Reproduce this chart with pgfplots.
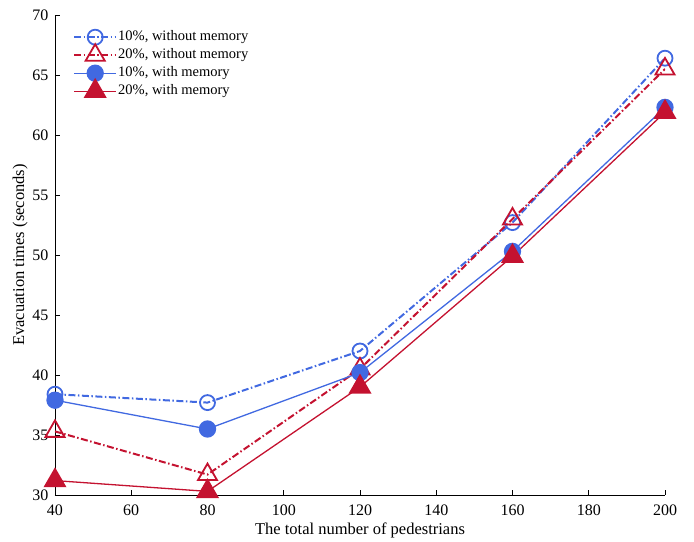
\documentclass[border=0pt]{standalone}
\usepackage{pgfplots}
\pgfplotsset{compat=1.18}
\usepackage{fontspec}
\setmainfont{Liberation Serif}
\definecolor{myblue}{RGB}{65,105,225}
\definecolor{myred}{RGB}{196,18,48}
\begin{document}
\begin{tikzpicture}
\begin{axis}[
  scale only axis,
  width=610pt, height=480pt,
  xmin=40, xmax=200, ymin=30, ymax=70,
  xtick={40,60,...,200}, ytick={30,35,...,70},
  axis x line=bottom, axis y line=left,
  axis line style={-, line width=0.8pt},
  tick align=inside,
  major tick length=5pt,
  tick style={black, line width=0.8pt},
  /pgf/number format/assume math mode=true,
  tick label style={font=\fontsize{16}{18}\selectfont},
  xticklabel style={yshift=-6pt},
  yticklabel style={xshift=-3pt},
  label style={font=\fontsize{16.5}{19}\selectfont},
  xlabel={The total number of pedestrians},
  ylabel={Evacuation times (seconds)},
  xlabel style={yshift=-1pt},
  ylabel style={yshift=-2pt},
  legend style={draw=none, fill=none, at={(19pt,467pt)}, anchor=north west,
    font=\fontsize{14.5}{17}\selectfont, row sep=0pt, inner sep=0pt,
    nodes={inner xsep=2pt, inner ysep=1.5pt, text height=10.5pt, text depth=4.5pt}},
  legend cell align=left,
  legend image code/.code={
    \draw[mark repeat=2,mark phase=2,#1] plot coordinates {(0pt,0pt) (21pt,0pt) (42pt,0pt)};
    \pgfresetboundingbox
    \pgfpathrectangle{\pgfpoint{0pt}{-4pt}}{\pgfpoint{42pt}{8pt}}\pgfusepath{use as bounding box}
  },
]
\addplot[myblue, line width=2pt, dash pattern=on 7pt off 2.5pt on 1.5pt off 2.5pt,
  mark=o, mark size=7.5pt, mark options={solid, line width=1.8pt}]
  coordinates {(40,38.4) (80,37.7) (120,42.0) (160,52.7) (200,66.4)};
\addlegendentry{10\%, without memory}
\addplot[myred, line width=2pt, dash pattern=on 7pt off 2.5pt on 1.5pt off 2.5pt,
  mark=triangle, mark size=11pt, mark options={solid, line width=1.8pt}]
  coordinates {(40,35.3) (80,31.7) (120,40.5) (160,53.0) (200,65.5)};
\addlegendentry{20\%, without memory}
\addplot[myblue, line width=1.3pt,
  mark=*, mark size=8pt, mark options={solid, fill=myblue, draw=myblue}]
  coordinates {(40,37.9) (80,35.5) (120,40.2) (160,50.3) (200,62.3)};
\addlegendentry{10\%, with memory}
\addplot[myred, line width=1.3pt,
  mark=triangle*, mark size=12pt, mark options={solid, fill=myred, draw=myred}]
  coordinates {(40,31.2) (80,30.3) (120,39.0) (160,49.9) (200,61.9)};
\addlegendentry{20\%, with memory}
\end{axis}
\useasboundingbox ([xshift=-55pt,yshift=-46pt]current axis.south west) rectangle ([xshift=29pt,yshift=15pt]current axis.north east);
\end{tikzpicture}
\end{document}
